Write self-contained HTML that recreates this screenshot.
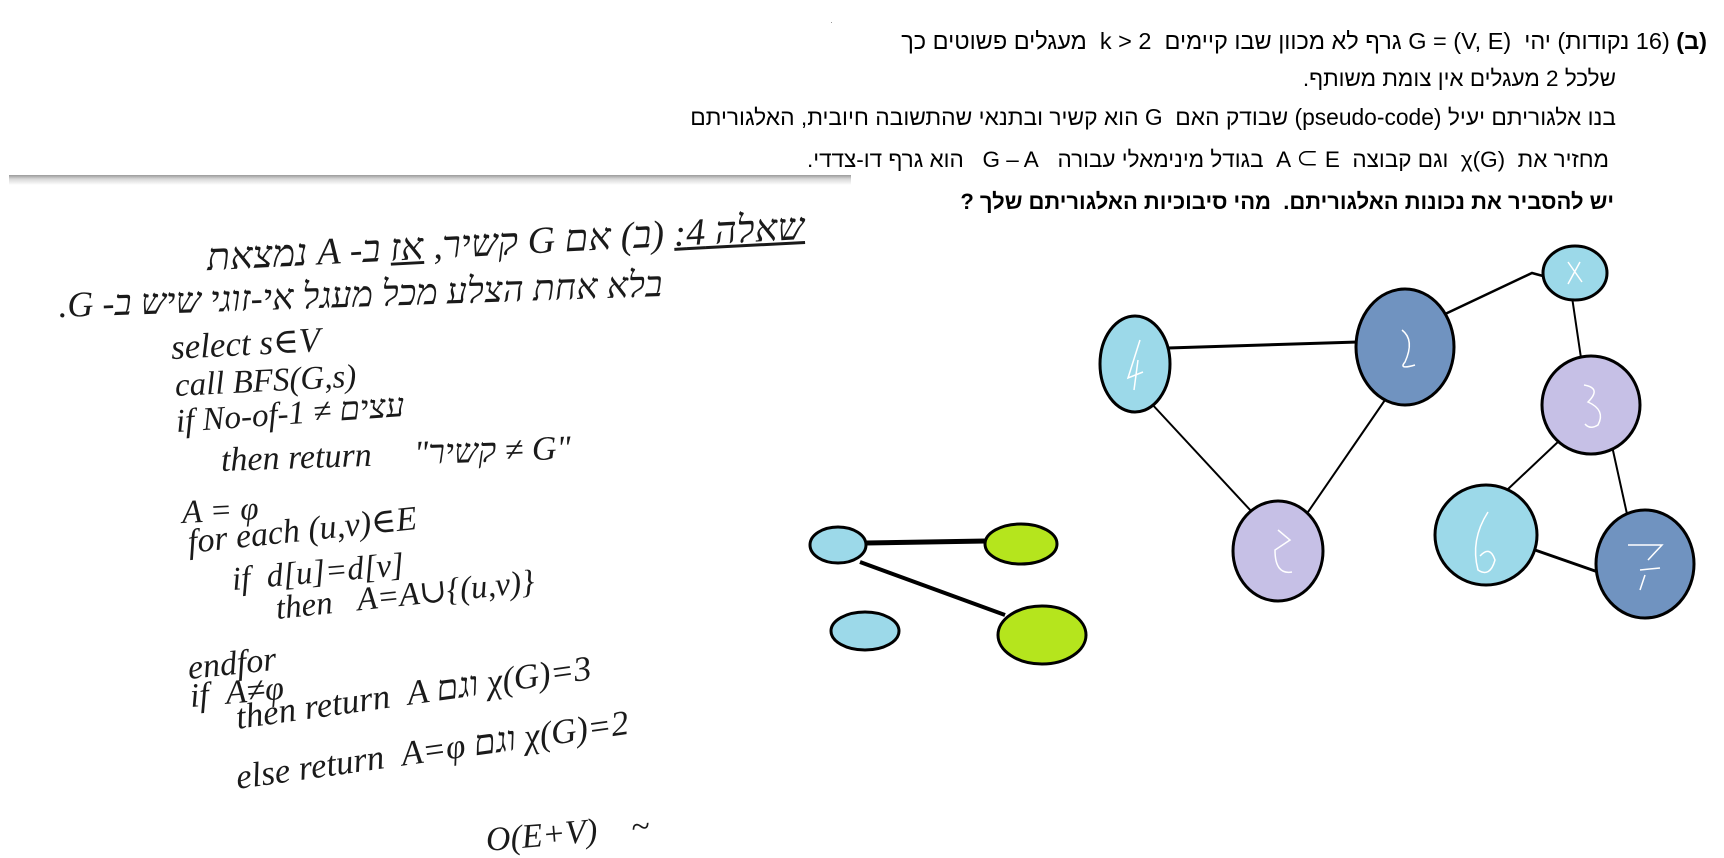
<!DOCTYPE html>
<html><head><meta charset="utf-8">
<style>
html,body{margin:0;padding:0;background:#fff;}
#root{position:relative;width:1724px;height:858px;overflow:hidden;background:#fff;}
.pt{position:absolute;direction:rtl;white-space:nowrap;font-family:"Liberation Sans Narrow","Liberation Sans","Noto Sans CJK SC",sans-serif;font-size:22.5px;color:#000;line-height:1;}
.hw{position:absolute;white-space:nowrap;font-family:"Liberation Serif","DejaVu Serif",serif;font-style:italic;font-size:32px;color:#1a1a1a;line-height:1;transform-origin:left center;}
.hr{direction:rtl;transform-origin:right center;}
</style></head>
<body>
<div id="root">
  <div class="pt" style="right:17px;top:30px;font-size:23.5px;"><b>(ב)</b> (16 נקודות) יהי&nbsp; G = (V, E) גרף לא מכוון שבו קיימים&nbsp; k &gt; 2&nbsp; מעגלים פשוטים כך</div>
  <div class="pt" style="right:108px;top:68px;">שלכל 2 מעגלים אין צומת משותף.</div>
  <div class="pt" style="right:108px;top:106px;font-size:22.8px;">בנו אלגוריתם יעיל (pseudo-code) שבודק האם&nbsp; G הוא קשיר ובתנאי שהתשובה חיובית, האלגוריתם</div>
  <div class="pt" style="right:115px;top:149px;">מחזיר את&nbsp; χ(G)&nbsp; וגם קבוצה&nbsp; A ⊂ E&nbsp; בגודל מינימאלי עבורה&nbsp;&nbsp; G – A&nbsp;&nbsp; הוא גרף דו-צדדי.</div>
  <div class="pt" style="right:110px;top:191px;font-weight:bold;font-size:22px;">יש להסביר את נכונות האלגוריתם.&nbsp; מהי סיבוכיות האלגוריתם שלך ?</div>

  <div style="position:absolute;left:9px;top:175px;width:842px;height:10px;background:linear-gradient(#9a9a9a,#d8d8d8 40%,#fff);"></div>
  <div style="position:absolute;left:831px;top:22px;width:1px;height:1px;background:#999;"></div>

  <div class="hw hr" style="right:920px;top:208px;font-size:38px;transform:rotate(-3deg);"><span style="text-decoration:underline;">שאלה 4:</span> (ב) אם G קשיר, <u>אז</u> ב- A נמצאת</div>
  <div class="hw hr" style="right:1062px;top:266px;font-size:36px;transform:rotate(-2deg);">בלא אחת הצלע מכל מעגל אי-זוגי שיש ב- G.</div>

  <div class="hw" style="left:171px;top:330px;font-size:35px;transform:rotate(-3deg);">select s∈V</div>
  <div class="hw" style="left:175px;top:370px;font-size:33px;transform:rotate(-3deg);">call BFS(G,s)</div>
  <div class="hw" style="left:176px;top:406px;font-size:33px;transform:rotate(-4deg);">if No-of-עצים ≠ 1</div>
  <div class="hw" style="left:221px;top:444px;font-size:34px;transform:rotate(-2deg);">then return &nbsp;&nbsp;&nbsp;&nbsp;"<span style="direction:rtl;unicode-bidi:embed;">G ≠ קשיר</span>"</div>
  <div class="hw" style="left:182px;top:497px;font-size:33px;transform:rotate(-3deg);">A = φ</div>
  <div class="hw" style="left:188px;top:526px;font-size:34px;transform:rotate(-6deg);">for each (u,v)∈E</div>
  <div class="hw" style="left:232px;top:564px;font-size:33px;transform:rotate(-5deg);">if &nbsp;d[u]=d[v]</div>
  <div class="hw" style="left:276px;top:593px;font-size:33px;transform:rotate(-6deg);">then &nbsp;&nbsp;A=A∪{(u,v)}</div>
  <div class="hw" style="left:188px;top:652px;font-size:34px;transform:rotate(-6deg);">endfor</div>
  <div class="hw" style="left:190px;top:680px;font-size:34px;transform:rotate(-5deg);">if &nbsp;A≠φ</div>
  <div class="hw" style="left:236px;top:700px;font-size:35px;transform:rotate(-8deg);">then return &nbsp;A וגם χ(G)=3</div>
  <div class="hw" style="left:236px;top:760px;font-size:35px;transform:rotate(-8deg);">else return &nbsp;A=φ וגם χ(G)=2</div>
  <div class="hw" style="left:486px;top:824px;font-size:34px;transform:rotate(-5deg);">O(E+V) &nbsp;&nbsp;&nbsp;~</div>

  <svg width="1724" height="858" style="position:absolute;left:0;top:0;">
    <g stroke="#000" fill="none">
      <line x1="1168" y1="348" x2="1358" y2="342" stroke-width="3"/>
      <line x1="1150" y1="402" x2="1252" y2="512" stroke-width="2"/>
      <line x1="1385" y1="400" x2="1308" y2="512" stroke-width="2"/>
      <polyline points="1443,315 1532,273 1543,276" stroke-width="2.5"/>
      <line x1="1572" y1="297" x2="1581" y2="358" stroke-width="2"/>
      <line x1="1560" y1="440" x2="1507" y2="490" stroke-width="2"/>
      <line x1="1612" y1="446" x2="1627" y2="514" stroke-width="2"/>
      <line x1="1535" y1="550" x2="1598" y2="572" stroke-width="3"/>
      <line x1="866" y1="543" x2="986" y2="541" stroke-width="5"/>
      <line x1="860" y1="562" x2="1005" y2="615" stroke-width="4"/>
    </g>
    <g stroke="#000" stroke-width="3">
      <ellipse cx="1135" cy="364" rx="35" ry="48" fill="#9cd9e9"/>
      <ellipse cx="1405" cy="347" rx="49" ry="58" fill="#7093c0"/>
      <ellipse cx="1575" cy="273" rx="32" ry="27" fill="#9cd9e9"/>
      <ellipse cx="1591" cy="405" rx="49" ry="49" fill="#c6c0e6"/>
      <ellipse cx="1278" cy="551" rx="45" ry="50" fill="#c6c0e6"/>
      <ellipse cx="1486" cy="535" rx="51" ry="50" fill="#9cd9e9"/>
      <ellipse cx="1645" cy="564" rx="49" ry="54" fill="#7093c0"/>
      <ellipse cx="838" cy="545" rx="28" ry="18" fill="#9cd9e9"/>
      <ellipse cx="1021" cy="544" rx="36" ry="20" fill="#b5e51d"/>
      <ellipse cx="865" cy="631" rx="34" ry="19" fill="#9cd9e9"/>
      <ellipse cx="1042" cy="635" rx="44" ry="29" fill="#b5e51d"/>
    </g>
    <g fill="none" stroke="#fff" stroke-width="1.5">
      <path d="M1140 340 L1128 378 L1143 372 M1138 360 L1134 390"/>
      <path d="M1402 330 Q1415 340 1405 362 Q1398 370 1415 365"/>
      <path d="M1568 262 L1582 282 M1580 262 L1568 284"/>
      <path d="M1584 385 Q1602 388 1588 402 Q1606 410 1598 425 Q1590 430 1585 424"/>
      <path d="M1278 530 L1290 540 L1275 550 Q1275 575 1292 572"/>
      <path d="M1488 512 Q1470 540 1478 570 Q1490 578 1495 560 Q1490 545 1480 556"/>
      <path d="M1628 545 L1662 545 L1648 560 M1640 570 L1660 568 M1645 575 L1640 590"/>
    </g>
  </svg>
</div>
</body></html>
